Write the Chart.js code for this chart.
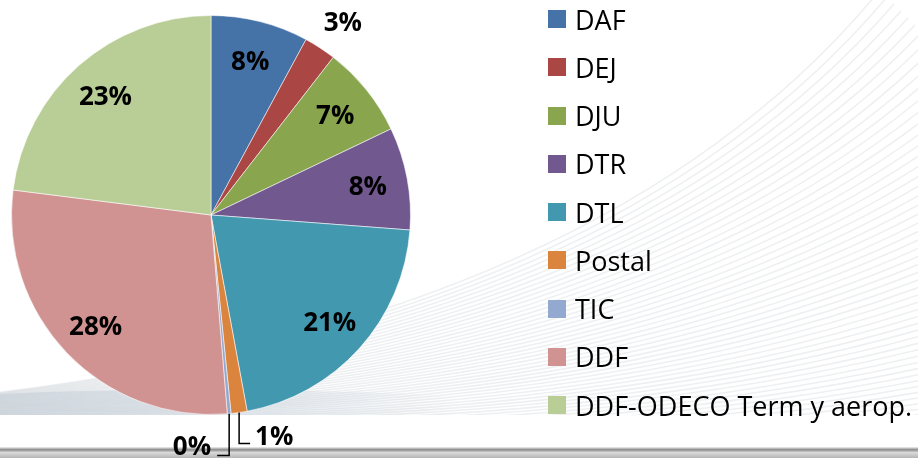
<!DOCTYPE html>
<html>
<head>
<meta charset="utf-8">
<script src="https://cdn.jsdelivr.net/npm/chart.js@4.4.1/dist/chart.umd.min.js"></script>
<style>
  html, body { margin: 0; padding: 0; background: #fff; }
  #wrap { position: relative; width: 918px; height: 458px; overflow: hidden; }
  #legend {
    position: absolute; left: 548px; top: -5px; margin: 0; padding: 0; list-style: none;
    font-family: "Open Sans", sans-serif; font-size: 27px; color: #000; line-height: 1;
  }
  #legend li { height: 48.25px; display: flex; align-items: center; white-space: nowrap; }
  #legend .box { width: 18px; height: 18px; margin-right: 9px; flex: none; }
</style>
</head>
<body>
<div id="wrap">
  <canvas id="pieChart" width="918" height="458"></canvas>
  <ul id="legend"></ul>
</div>
<script>
// data (share of total, %)
const categories = ['DAF', 'DEJ', 'DJU', 'DTR', 'DTL', 'Postal', 'TIC', 'DDF', 'DDF-ODECO Term y aerop.'];
const shares = [7.9, 2.6, 7.4, 8.3, 20.9, 1.3, 0.3, 28.3, 23.0];
const sliceColors = ['#4572A7', '#AA4643', '#89A54E', '#71588F', '#4198AF', '#DB843D', '#93A9CF', '#D19392', '#B9CD96'];

document.addEventListener('DOMContentLoaded', () => {

    // legend (html, same colours as the slices)
    const legendEl = document.getElementById('legend');
    categories.forEach((name, i) => {
        const li = document.createElement('li');
        const box = document.createElement('span');
        box.className = 'box';
        box.style.background = sliceColors[i];
        li.appendChild(box);
        li.appendChild(document.createTextNode(name));
        legendEl.appendChild(li);
    });

    // background swoosh + bottom bar
    const backdrop = {
        id: 'backdrop',
        beforeDraw(chart) {
            const { ctx, width } = chart;
            ctx.save();
            ctx.fillStyle = '#fff';
            ctx.fillRect(0, 0, width, 458);

            ctx.save();
            ctx.beginPath();
            ctx.rect(0, 0, width, 415);
            ctx.clip();

            // bluish tint lower left, fading out to the right
            const tint = ctx.createLinearGradient(0, 0, 460, 0);
            tint.addColorStop(0, 'rgba(178,196,212,0.45)');
            tint.addColorStop(0.5, 'rgba(178,196,212,0.35)');
            tint.addColorStop(1, 'rgba(178,196,212,0)');
            ctx.fillStyle = tint;
            ctx.beginPath();
            ctx.moveTo(0, 394);
            ctx.quadraticCurveTo(200, 384, 460, 396);
            ctx.lineTo(460, 415);
            ctx.lineTo(0, 415);
            ctx.closePath();
            ctx.fill();

            ctx.strokeStyle = 'rgba(200,206,212,0.32)';
            ctx.lineWidth = 1.5;
            for (let k = 0; k < 60; k++) {
                ctx.beginPath();
                ctx.moveTo(-50, 398 + k * 0.4);
                ctx.quadraticCurveTo(600 + k * 3, 330 + k * 3.2, 880 + k * 7, -10 + k * 7);
                ctx.stroke();
            }
            ctx.restore();

            const bar = ctx.createLinearGradient(0, 447, 0, 458);
            bar.addColorStop(0, '#f2f2f2');
            bar.addColorStop(0.25, '#8a8a8a');
            bar.addColorStop(0.5, '#d9d9d9');
            bar.addColorStop(1, '#b5b5b5');
            ctx.fillStyle = bar;
            ctx.fillRect(0, 447, width, 11);
            ctx.restore();
        }
    };

    // percent labels, small slices get leader lines
    const sliceLabels = {
        id: 'sliceLabels',
        afterDatasetsDraw(chart) {
            const ctx = chart.ctx;
            const meta = chart.getDatasetMeta(0);
            const total = shares.reduce((a, b) => a + b, 0);
            ctx.save();
            ctx.font = 'bold 26px "Open Sans"';
            ctx.fillStyle = '#000';
            ctx.strokeStyle = '#000';
            ctx.lineWidth = 1.5;
            meta.data.forEach((arc, i) => {
                const p = arc.getProps(['x', 'y', 'startAngle', 'endAngle', 'outerRadius'], true);
                const mid = (p.startAngle + p.endAngle) / 2;
                const pct = shares[i] / total * 100;
                const text = Math.round(pct) + '%';
                const ex = p.x + Math.cos(mid) * p.outerRadius;
                const ey = p.y + Math.sin(mid) * p.outerRadius;
                if (pct < 1) {
                    const ly = p.y + p.outerRadius + 41;
                    ctx.beginPath();
                    ctx.moveTo(ex, ey); ctx.lineTo(ex, ly); ctx.lineTo(ex - 12, ly);
                    ctx.stroke();
                    ctx.textAlign = 'right';
                    ctx.textBaseline = 'alphabetic';
                    ctx.fillText(text, ex - 18, ly - 1);
                } else if (pct < 2) {
                    const ly = p.y + p.outerRadius + 29;
                    ctx.beginPath();
                    ctx.moveTo(ex, ey); ctx.lineTo(ex, ly); ctx.lineTo(ex + 11, ly);
                    ctx.stroke();
                    ctx.textAlign = 'left';
                    ctx.textBaseline = 'alphabetic';
                    ctx.fillText(text, ex + 16, ly + 1);
                } else if (pct < 5) {
                    // outside end, nudged a little clockwise like the original
                    const a = mid + 0.025;
                    const r = p.outerRadius * 1.165;
                    ctx.textAlign = 'center';
                    ctx.textBaseline = 'middle';
                    ctx.fillText(text, p.x + Math.cos(a) * r, p.y + Math.sin(a) * r);
                } else {
                    const r = p.outerRadius * 0.8;
                    ctx.textAlign = 'center';
                    ctx.textBaseline = 'middle';
                    ctx.fillText(text, p.x + Math.cos(mid) * r, p.y + Math.sin(mid) * r + 2);
                }
            });
            ctx.restore();
        }
    };

    new Chart(document.getElementById('pieChart'), {
        type: 'pie',
        data: {
            labels: categories,
            datasets: [{
                data: shares,
                backgroundColor: sliceColors,
                borderColor: 'rgba(255,255,255,0.55)',
                borderWidth: 1
            }]
        },
        options: {
            responsive: false,
            animation: false,
            devicePixelRatio: 1,
            layout: { padding: { left: 11, top: 15, right: 507, bottom: 43 } },
            plugins: {
                legend: { display: false },
                tooltip: { enabled: false }
            }
        },
        plugins: [backdrop, sliceLabels]
    });
});
</script>
</body>
</html>
